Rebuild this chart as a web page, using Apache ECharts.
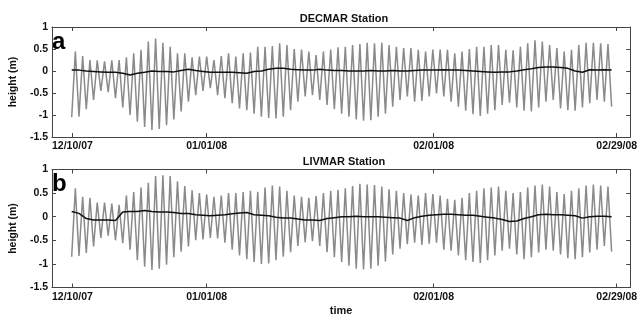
<!DOCTYPE html>
<html>
<head>
<meta charset="utf-8">
<script src="https://cdn.jsdelivr.net/npm/echarts@6/dist/echarts.min.js"></script>
<style>
  html, body { margin: 0; background: #fff; }
  #chart { width: 640px; height: 320px; }
</style>
</head>
<body>
<div id="chart"></div>
<script>
// x runs in tidal cycles (one low + one high each), ticks placed as in the figure
const tickLabels = ['12/10/07', '01/01/08', '02/01/08', '02/29/08'];
const tickPos = [0.1, 18.5, 49.6, 74.7];
const yTicks = [1, 0.5, 0, -0.5, -1, -1.5];

// DECMAR: daily low / high water and the low-passed level (m)
const decLow = [
  -1.05, -1.04, -0.87, -0.66, -0.45, -0.48, -0.62, -0.83, -1.00, -1.15,
  -1.27, -1.34, -1.32, -1.23, -1.10, -0.92, -0.70, -0.55, -0.45, -0.39,
  -0.55, -0.62, -0.73, -0.85, -0.89, -0.97, -1.04, -1.07, -1.08, -1.04,
  -0.89, -0.70, -0.58, -0.55, -0.66, -0.77, -0.87, -0.97, -1.04, -1.10,
  -1.13, -1.12, -1.04, -0.97, -0.81, -0.66, -0.58, -0.70, -0.68, -0.58,
  -0.51, -0.58, -0.70, -0.81, -0.90, -0.98, -1.02, -0.97, -0.89, -0.77,
  -0.72, -0.83, -0.90, -0.92, -0.83, -0.70, -0.66, -0.85, -0.89, -0.90,
  -0.83, -0.73, -0.66, -0.70, -0.81
];
const decHigh = [
  0.44, 0.34, 0.25, 0.24, 0.22, 0.24, 0.25, 0.31, 0.40, 0.48,
  0.67, 0.74, 0.64, 0.55, 0.40, 0.40, 0.31, 0.33, 0.33, 0.25,
  0.34, 0.40, 0.33, 0.40, 0.42, 0.55, 0.55, 0.57, 0.63, 0.59,
  0.50, 0.49, 0.44, 0.36, 0.44, 0.49, 0.54, 0.55, 0.59, 0.61,
  0.64, 0.63, 0.64, 0.59, 0.55, 0.52, 0.52, 0.48, 0.44, 0.49,
  0.49, 0.48, 0.40, 0.44, 0.50, 0.55, 0.55, 0.59, 0.59, 0.48,
  0.47, 0.55, 0.63, 0.70, 0.67, 0.59, 0.52, 0.44, 0.48, 0.59,
  0.64, 0.64, 0.63, 0.61
];
const decMean = [
  0.02, 0.02, 0.00, -0.01, -0.02, -0.03, -0.03, -0.05, -0.09, -0.05,
  -0.03, 0.00, -0.01, -0.01, -0.02, 0.01, 0.04, 0.01, -0.01, -0.03,
  -0.03, -0.03, -0.03, -0.04, -0.05, -0.01, 0.00, 0.04, 0.06, 0.06,
  0.04, 0.03, 0.02, 0.02, 0.04, 0.02, 0.01, 0.01, 0.00, 0.00,
  0.00, 0.01, 0.00, 0.00, 0.01, 0.00, 0.00, 0.01, 0.02, 0.02,
  0.02, 0.03, 0.02, 0.02, 0.01, 0.00, -0.01, -0.02, -0.03, -0.02,
  -0.02, 0.00, 0.03, 0.05, 0.08, 0.09, 0.09, 0.08, 0.06, 0.00,
  -0.03, 0.03, 0.02, 0.03, 0.02
];

// LIVMAR
const livLow = [
  -0.85, -0.83, -0.77, -0.63, -0.45, -0.40, -0.50, -0.56, -0.70, -0.92,
  -1.06, -1.13, -1.10, -1.02, -0.86, -0.74, -0.63, -0.50, -0.48, -0.45,
  -0.46, -0.55, -0.70, -0.82, -0.90, -0.96, -1.00, -0.99, -0.92, -0.85,
  -0.75, -0.62, -0.54, -0.52, -0.62, -0.75, -0.86, -0.96, -1.04, -1.10,
  -1.12, -1.10, -1.04, -0.95, -0.80, -0.68, -0.58, -0.55, -0.60, -0.57,
  -0.55, -0.70, -0.72, -0.82, -0.92, -0.96, -0.98, -0.92, -0.82, -0.72,
  -0.68, -0.80, -0.90, -0.86, -0.76, -0.70, -0.72, -0.80, -0.88, -0.90,
  -0.86, -0.76, -0.70, -0.62, -0.74
];
const livHigh = [
  0.60, 0.42, 0.40, 0.30, 0.30, 0.28, 0.25, 0.45, 0.52, 0.62,
  0.72, 0.86, 0.88, 0.86, 0.75, 0.65, 0.56, 0.50, 0.47, 0.42,
  0.45, 0.50, 0.50, 0.52, 0.55, 0.53, 0.62, 0.66, 0.64, 0.55,
  0.45, 0.42, 0.40, 0.44, 0.50, 0.55, 0.57, 0.60, 0.65, 0.70,
  0.68, 0.67, 0.64, 0.58, 0.55, 0.50, 0.47, 0.45, 0.50, 0.48,
  0.45, 0.38, 0.36, 0.40, 0.50, 0.55, 0.60, 0.62, 0.64, 0.55,
  0.50, 0.52, 0.62, 0.66, 0.68, 0.64, 0.52, 0.48, 0.55, 0.60,
  0.66, 0.68, 0.66, 0.64
];
const livMean = [
  0.11, 0.07, -0.04, -0.07, -0.07, -0.07, -0.08, 0.10, 0.11, 0.11,
  0.13, 0.11, 0.10, 0.10, 0.09, 0.07, 0.07, 0.04, 0.03, 0.02,
  0.03, 0.04, 0.06, 0.08, 0.09, 0.04, 0.03, 0.02, -0.01, -0.03,
  -0.03, -0.05, -0.07, -0.07, -0.08, -0.04, -0.02, 0.00, 0.00, 0.01,
  0.00, 0.00, 0.00, -0.01, -0.02, -0.03, -0.08, -0.02, 0.01, 0.03,
  0.04, 0.05, 0.05, 0.04, 0.03, 0.03, 0.01, -0.01, -0.03, -0.06,
  -0.10, -0.09, -0.04, 0.00, 0.04, 0.05, 0.04, 0.04, 0.03, 0.02,
  -0.03, 0.00, 0.01, 0.01, 0.00
];

const xMin = -2.7;
const xMax = 76.55;
const font = 'Liberation Sans, Arial, Helvetica, sans-serif';
const frame = '#444';

function tide(low, high) {
  const pts = [];
  low.forEach((v, i) => {
    pts.push([i, v]);
    if (i < high.length) pts.push([i + 0.5, high[i]]);
  });
  return pts;
}

function mean(arr) {
  return arr.map((v, i) => [i, v]);
}

function tickName(v) {
  let best = 0;
  tickPos.forEach((p, i) => {
    if (Math.abs(p - v) < Math.abs(tickPos[best] - v)) best = i;
  });
  return tickLabels[best];
}

function xAxis(grid, position, labels, name) {
  return {
    type: 'value',
    gridIndex: grid,
    position: position,
    min: xMin,
    max: xMax,
    name: name || '',
    nameLocation: 'middle',
    nameGap: 18,
    nameTextStyle: { fontFamily: font, fontWeight: 'bold', fontSize: 11, color: '#111' },
    axisLine: { show: true, onZero: false, lineStyle: { color: frame, width: 1 } },
    axisTick: { show: true, inside: true, length: 4, customValues: tickPos, lineStyle: { color: frame } },
    axisLabel: {
      show: labels,
      customValues: tickPos,
      formatter: tickName,
      fontFamily: font,
      fontWeight: 'bold',
      fontSize: 10.5,
      color: '#111',
      margin: 4
    },
    splitLine: { show: false }
  };
}

function yAxis(grid, position, labels) {
  return {
    type: 'value',
    gridIndex: grid,
    position: position,
    min: -1.5,
    max: 1,
    interval: 0.5,
    name: labels ? 'height (m)' : '',
    nameLocation: 'middle',
    nameRotate: 90,
    nameGap: 25,
    nameTextStyle: { fontFamily: font, fontWeight: 'bold', fontSize: 10.5, color: '#111' },
    axisLine: { show: true, onZero: false, lineStyle: { color: frame, width: 1 } },
    axisTick: { show: true, inside: true, length: 4, customValues: yTicks, lineStyle: { color: frame } },
    axisLabel: {
      show: labels,
      fontFamily: font,
      fontWeight: 'bold',
      fontSize: 10.5,
      color: '#111',
      margin: 4
    },
    splitLine: { show: false }
  };
}

function lineSeries(axis, data, color, width, z) {
  return {
    type: 'line',
    xAxisIndex: axis,
    yAxisIndex: axis,
    data: data,
    showSymbol: false,
    symbol: 'none',
    silent: true,
    lineStyle: { color: color, width: width },
    z: z
  };
}

const chart = echarts.init(document.getElementById('chart'), null, { renderer: 'canvas' });

chart.setOption({
  animation: false,
  backgroundColor: '#fff',
  title: [
    {
      text: 'DECMAR Station',
      left: 339, top: 8, textAlign: 'center',
      textStyle: { fontFamily: font, fontWeight: 'bold', fontSize: 11, color: '#111' }
    },
    {
      text: 'LIVMAR Station',
      left: 339, top: 151, textAlign: 'center',
      textStyle: { fontFamily: font, fontWeight: 'bold', fontSize: 11, color: '#111' }
    }
  ],
  grid: [
    { left: 45, right: 7, top: 27, height: 110 },
    { left: 45, right: 7, top: 169.5, height: 118 }
  ],
  xAxis: [
    xAxis(0, 'bottom', true),
    xAxis(0, 'top', false),
    xAxis(1, 'bottom', true, 'time'),
    xAxis(1, 'top', false)
  ],
  yAxis: [
    yAxis(0, 'left', true),
    yAxis(0, 'right', false),
    yAxis(1, 'left', true),
    yAxis(1, 'right', false)
  ],
  graphic: [
    {
      type: 'text', left: 52, top: 30,
      style: { text: 'a', font: 'bold 24px ' + font, fill: '#000' }
    },
    {
      type: 'text', left: 52, top: 172,
      style: { text: 'b', font: 'bold 24px ' + font, fill: '#000' }
    }
  ],
  series: [
    lineSeries(0, tide(decLow, decHigh), '#8a8a8a', 1.5, 2),
    lineSeries(0, mean(decMean), '#111', 1.5, 3),
    lineSeries(2, tide(livLow, livHigh), '#8a8a8a', 1.5, 2),
    lineSeries(2, mean(livMean), '#111', 1.5, 3)
  ]
});
</script>
</body>
</html>
